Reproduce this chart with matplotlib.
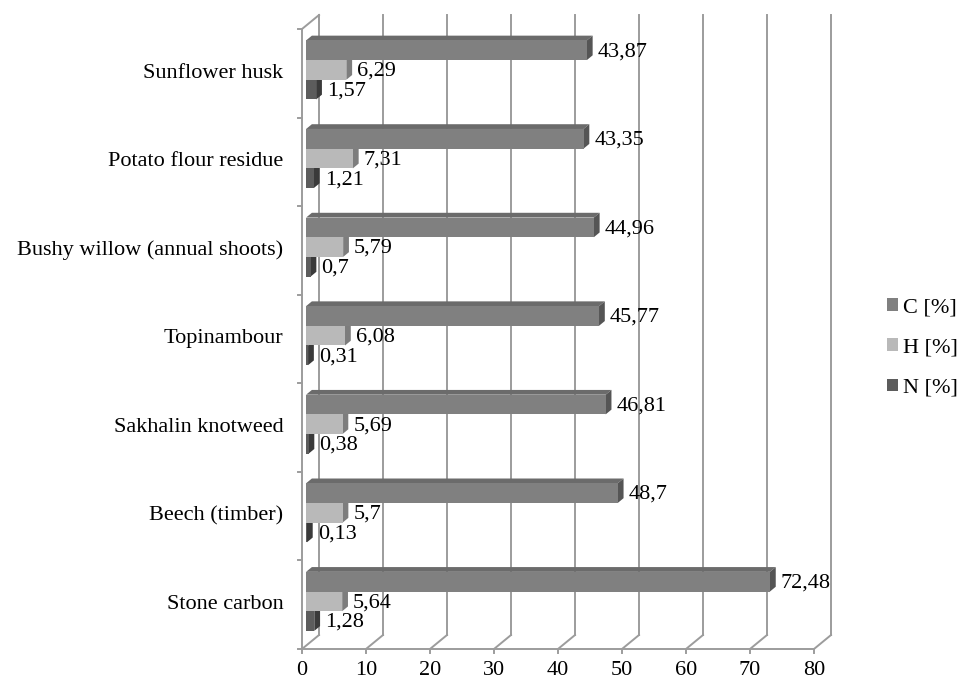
import matplotlib.pyplot as plt
from matplotlib.patches import Polygon, Patch

# data (bottom to top)
categories = ['Stone carbon', 'Beech (timber)', 'Sakhalin knotweed', 'Topinambour',
              'Bushy willow (annual shoots)', 'Potato flour residue', 'Sunflower husk']
c_vals = [72.48, 48.7, 46.81, 45.77, 44.96, 43.35, 43.87]
h_vals = [5.64, 5.7, 5.69, 6.08, 5.79, 7.31, 6.29]
n_vals = [1.28, 0.13, 0.38, 0.31, 0.7, 1.21, 1.57]
series_names = ['C [%]', 'H [%]', 'N [%]']
xticks = [0, 10, 20, 30, 40, 50, 60, 70, 80]

plt.rcParams['font.family'] = ['Liberation Serif', 'DejaVu Serif']
FS = 16

# colours: front, top, side
cols = {
    'C': ('#808080', '#6b6b6b', '#555555'),
    'H': ('#b9b9b9', '#a0a0a0', '#7d7d7d'),
    'N': ('#5c5c5c', '#4a4a4a', '#3a3a3a'),
}
grid_c = '#9c9c9c'

# pseudo 3D depth offsets (in data units)
DX = 2.66
DY = 0.158
d0, d1 = 0.24, 0.58

W, H = 958, 684
fig = plt.figure(figsize=(W / 100, H / 100), dpi=100)
ax = fig.add_axes([302 / W, 35 / H, 512 / W, 620 / H])
ax.set_xlim(0, 80)
ax.set_ylim(0, 7)
ax.axis('off')

ncat = len(categories)


def P(v, y, d):
    return (v + d * DX, y + d * DY)


# back wall gridlines and floor
for v in xticks:
    ax.plot([v + DX, v + DX], [DY, ncat + DY], color=grid_c, lw=1.4, clip_on=False, zorder=1)
    ax.plot([v, v + DX], [0, DY], color=grid_c, lw=1.4, clip_on=False, zorder=1)
    ax.plot([v, v], [0, -0.04], color=grid_c, lw=1.4, clip_on=False, zorder=1)
    ax.text(v, -0.14, str(v), ha='center', va='top', fontsize=FS)
ax.plot([0, 80], [0, 0], color=grid_c, lw=1.4, clip_on=False, zorder=1)
# left wall
ax.plot([0, 0], [0, ncat], color=grid_c, lw=1.4, clip_on=False, zorder=1)
ax.plot([0, DX], [ncat, ncat + DY], color=grid_c, lw=1.4, clip_on=False, zorder=1)
for i in range(ncat + 1):
    ax.plot([0, -0.6], [i, i], color=grid_c, lw=1.4, clip_on=False, zorder=1)
for i, name in enumerate(categories):
    ax.text(-2.9, i + 0.5, name, ha='right', va='center', fontsize=FS)

# bars
bh = 1 / 4.5
z = 3
for i in range(ncat):
    group = [('N', n_vals[i], i + 0.5 - 1.5 * bh),
             ('H', h_vals[i], i + 0.5 - 0.5 * bh),
             ('C', c_vals[i], i + 0.5 + 0.5 * bh)]
    for key, v, yb in group:
        fc, tc, sc = cols[key]
        yt = yb + bh
        front = [P(0, yb, d0), P(v, yb, d0), P(v, yt, d0), P(0, yt, d0)]
        top = [P(0, yt, d0), P(v, yt, d0), P(v, yt, d1), P(0, yt, d1)]
        side = [P(v, yb, d0), P(v, yb, d1), P(v, yt, d1), P(v, yt, d0)]
        ax.add_patch(Polygon(top, closed=True, fc=tc, ec='none', zorder=z, clip_on=False))
        ax.add_patch(Polygon(side, closed=True, fc=sc, ec='none', zorder=z, clip_on=False))
        ax.add_patch(Polygon(front, closed=True, fc=fc, ec='none', zorder=z, clip_on=False))
        z += 1
        lx, ly = P(v, yb + bh / 2, d1)
        ax.text(lx + 0.8, ly - 0.07, f'{v:g}'.replace('.', ','), ha='left', va='center',
                fontsize=FS, zorder=100)

handles = [Patch(fc=cols[k][0], ec='none') for k in ['C', 'H', 'N']]
fig.legend(handles, series_names, loc='upper left', bbox_to_anchor=(876 / W, 1 - 287 / H),
           frameon=False, fontsize=FS, handlelength=0.5, handleheight=0.5,
           handletextpad=0.2, labelspacing=0.95, borderpad=0)

plt.savefig('out.png', dpi=100)
